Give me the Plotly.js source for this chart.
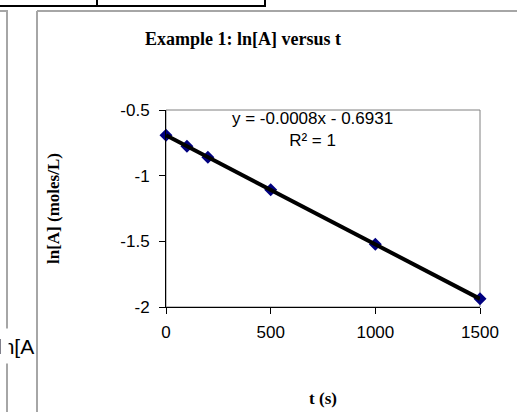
<!DOCTYPE html>
<html>
<head>
<meta charset="utf-8">
<script src="https://cdn.plot.ly/plotly-3.0.1.min.js"></script>
<style>
  html, body { margin: 0; padding: 0; background: #ffffff; }
  #chart { width: 517px; height: 412px; }
</style>
</head>
<body>
<div id="chart"></div>
<script>
// ---- data ----
const timeSeconds = [0, 100, 200, 500, 1000, 1500];
const lnConcentration = [-0.6931, -0.7761, -0.8591, -1.1081, -1.5231, -1.9381];
const trendTime = [0, 1500];
const trendLn = [-0.6931, -1.9381];
const yTickValues = [-2, -1.5, -1, -0.5];
const yTickLabels = ["-2", "-1.5", "-1", "-0.5"];
const xTickValues = [0, 500, 1000, 1500];
const xTickLabels = ["0", "500", "1000", "1500"];
const chartTitle = "Example 1: ln[A] versus t";
const xTitle = "t (s)";
const yTitle = "ln[A] (moles/L)";
const equationText = "y = -0.0008x - 0.6931<br>R² = 1";
const strayText = "ln[A";

// ---- geometry helpers (pixel -> paper) ----
const W = 517, H = 412;
const M = { l: 166, r: 37, t: 110, b: 105 };
const PW = W - M.l - M.r, PH = H - M.t - M.b;
const px = (x) => (x - M.l) / PW;
const py = (y) => 1 - (y - M.t) / PH;

const serif = "Times New Roman, Liberation Serif, serif";
const sans = "Arial, Liberation Sans, sans-serif";
const docGray = "#a6a6a6";

const traces = [
  {
    x: timeSeconds, y: lnConcentration,
    type: "scatter", mode: "markers",
    marker: { symbol: "diamond", size: 10, color: "#000080" },
    cliponaxis: false, showlegend: false, hoverinfo: "skip"
  },
  {
    x: trendTime, y: trendLn,
    type: "scatter", mode: "lines",
    line: { color: "#000000", width: 4 },
    cliponaxis: false, showlegend: false, hoverinfo: "skip"
  }
];

function line(x0, y0, x1, y1, color, width) {
  return { type: "line", xref: "paper", yref: "paper",
    x0: px(x0), y0: py(y0), x1: px(x1), y1: py(y1),
    line: { color: color, width: width }, layer: "above" };
}

const layout = {
  width: W, height: H,
  margin: M,
  paper_bgcolor: "#ffffff", plot_bgcolor: "#ffffff",
  showlegend: false,
  title: {
    text: "<b>" + chartTitle + "</b>",
    font: { family: serif, size: 18, color: "#000000" },
    x: 243 / W, xref: "container", xanchor: "center",
    y: 1 - 39 / H, yref: "container", yanchor: "middle"
  },
  xaxis: {
    range: [0, 1500],
    tickvals: xTickValues, ticktext: xTickLabels,
    ticks: "outside", ticklen: 6, tickwidth: 1, tickcolor: "#000000",
    showline: true, linecolor: "#000000", linewidth: 1,
    showgrid: false, zeroline: false,
    tickfont: { family: sans, size: 17, color: "#000000" },
    ticklabelstandoff: 4,
    title: { text: "<b>" + xTitle + "</b>", font: { family: serif, size: 17, color: "#000000" }, standoff: 50 },
    automargin: false, fixedrange: true
  },
  yaxis: {
    range: [-2, -0.5],
    tickvals: yTickValues, ticktext: yTickLabels,
    ticks: "outside", ticklen: 6, tickwidth: 1, tickcolor: "#000000",
    showline: true, linecolor: "#000000", linewidth: 1,
    showgrid: false, zeroline: false,
    tickfont: { family: sans, size: 17, color: "#000000" },
    ticklabelstandoff: 6,
    title: { text: "<b>" + yTitle + "</b>", font: { family: serif, size: 17, color: "#000000" }, standoff: 56 },
    automargin: false, fixedrange: true
  },
  shapes: [
    { type: "rect", xref: "paper", yref: "paper", x0: 0, y0: 0, x1: 1, y1: 1,
      line: { color: "#808080", width: 1 }, layer: "below" },
    line(0, 6, 266, 6, "#000000", 2),
    line(97, 0, 97, 6, "#000000", 2),
    line(265, 0, 265, 6, "#000000", 2),
    line(0, 11, 8, 11, docGray, 2),
    line(7, 11, 7, 412, docGray, 2),
    line(37, 11, 37, 412, docGray, 2),
    line(37, 11, 517, 11, docGray, 2)
  ],
  annotations: [
    {
      text: equationText, xref: "paper", yref: "paper",
      x: px(312), y: py(129), xanchor: "center", yanchor: "middle",
      showarrow: false, align: "center",
      font: { family: sans, size: 17, color: "#000000" }
    },
    {
      text: strayText, xref: "paper", yref: "paper",
      x: px(35), y: py(346), xanchor: "right", yanchor: "middle",
      showarrow: false, borderpad: 0,
      font: { family: sans, size: 21, color: "#000000" }
    },
    {
      text: " ", xref: "paper", yref: "paper",
      x: px(0), y: py(346), xanchor: "left", yanchor: "middle",
      showarrow: false, width: 6.5, height: 34, bgcolor: "#ffffff", borderpad: 0,
      font: { family: sans, size: 10 }
    }
  ]
};

Plotly.newPlot("chart", traces, layout, { staticPlot: true, displayModeBar: false });
</script>
</body>
</html>
